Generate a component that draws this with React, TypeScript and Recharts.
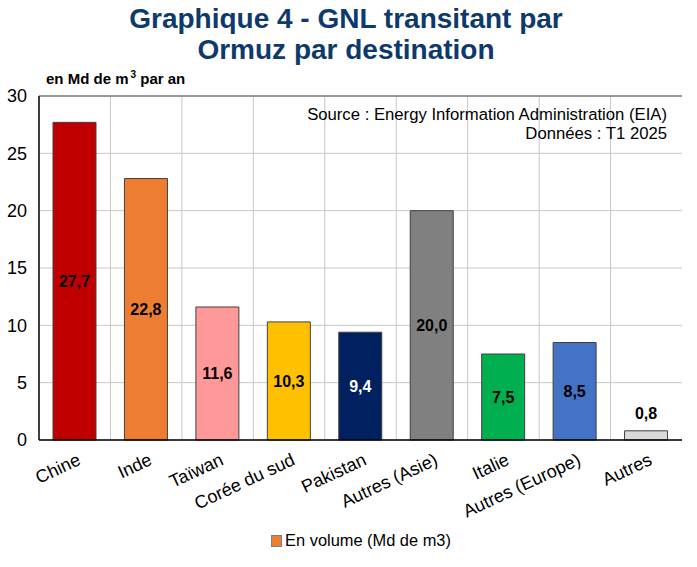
import React from 'react';
import { BarChart, Bar, XAxis, YAxis, CartesianGrid, Cell, LabelList, Legend, ReferenceLine } from 'recharts';

const categories = ['Chine', 'Inde', 'Taïwan', 'Corée du sud', 'Pakistan', 'Autres (Asie)', 'Italie', 'Autres (Europe)', 'Autres'];
const volumes = [27.7, 22.8, 11.6, 10.3, 9.4, 20.0, 7.5, 8.5, 0.8];
const yTicks = [0, 5, 10, 15, 20, 25, 30];
const seriesName = 'En volume (Md de m3)';

const barColors = ['#C00000', '#ED7D31', '#FF9999', '#FFC000', '#002060', '#808080', '#00B050', '#4472C4', '#D9D9D9'];
const labelColors = ['#000000', '#000000', '#000000', '#000000', '#FFFFFF', '#000000', '#000000', '#000000', '#000000'];

const data = categories.map((name, i) => ({ name, value: volumes[i] }));

const FONT = 'Arial, "Liberation Sans", sans-serif';
const W = 697;
const H = 567;

const XTick = (props: any) => {
  const { x, y, payload } = props;
  return (
    <g transform={`translate(${x + 7},${y + 24}) rotate(-25)`}>
      <text x={0} y={0} textAnchor="end" fontSize={18} fontFamily={FONT} fill="#000">
        {payload.value}
      </text>
    </g>
  );
};

const ValueLabel = (props: any) => {
  const { x, y, width, height, value, index } = props;
  const small = value < 3;
  const cx = x + width / 2;
  const cy = small ? y - 18 : y + height / 2;
  return (
    <text
      x={cx}
      y={cy}
      dy={6}
      textAnchor="middle"
      fontSize={16}
      fontWeight="bold"
      fontFamily={FONT}
      fill={labelColors[index]}
    >
      {Number(value).toFixed(1).replace('.', ',')}
    </text>
  );
};

const LegendContent = () => (
  <div
    style={{
      display: 'flex',
      justifyContent: 'center',
      alignItems: 'center',
      fontFamily: FONT,
      fontSize: 16.4,
      color: '#000',
      paddingLeft: 40,
      marginTop: -6,
    }}
  >
    <span style={{ display: 'inline-block', width: 9, height: 10, background: '#ED7D31', border: '1px solid #7F7F7F', marginRight: 3 }} />
    <span>{seriesName}</span>
  </div>
);

export default function App() {
  return (
    <div style={{ position: 'absolute', left: 0, top: 0, width: W, height: H, background: '#fff' }}>
      <div
        style={{
          position: 'absolute',
          left: 0,
          top: 3,
          width: 692,
          textAlign: 'center',
          fontFamily: FONT,
          fontWeight: 'bold',
          fontSize: 28,
          lineHeight: '31px',
          color: '#0E3A6B',
        }}
      >
        Graphique 4 - GNL transitant par
        <br />
        Ormuz par destination
      </div>
      <div
        style={{
          position: 'absolute',
          left: 46,
          top: 70,
          fontFamily: FONT,
          fontWeight: 'bold',
          fontSize: 15,
          color: '#000',
        }}
      >
        en Md de m<sup style={{ fontSize: 10, verticalAlign: 'top', position: 'relative', top: -1, marginLeft: 2 }}>3</sup> par an
      </div>
      <div
        style={{
          position: 'absolute',
          right: 30,
          top: 105,
          textAlign: 'right',
          fontFamily: FONT,
          fontSize: 16.7,
          lineHeight: '19px',
          color: '#000',
          zIndex: 2,
        }}
      >
        Source : Energy Information Administration (EIA)
        <br />
        Données : T1 2025
      </div>
      <BarChart
        width={W}
        height={H}
        data={data}
        margin={{ top: 96, right: 15, left: 0, bottom: 0 }}
        barCategoryGap={0}
      >
        <CartesianGrid
          stroke="#C8C8C8"
          strokeWidth={1}
          verticalCoordinatesGenerator={({ offset }: any) =>
            categories.slice(1).map((_, i) => offset.left + ((i + 1) * offset.width) / categories.length)
          }
        />
        <ReferenceLine y={30} stroke="#7F7F7F" strokeWidth={1.5} />
        <XAxis
          dataKey="name"
          interval={0}
          tick={<XTick />}
          tickLine={false}
          tickSize={0}
          tickMargin={0}
          height={97}
          axisLine={{ stroke: '#000', strokeWidth: 1.5 }}
        />
        <YAxis
          domain={[0, 30]}
          ticks={yTicks}
          width={39}
          tickLine={false}
          tickSize={0}
          tickMargin={12}
          axisLine={{ stroke: '#000', strokeWidth: 1.5 }}
          tick={{ fontSize: 18, fontFamily: FONT, fill: '#000' }}
        />
        <YAxis
          yAxisId="right"
          orientation="right"
          domain={[0, 30]}
          width={0}
          tick={false}
          tickLine={false}
          axisLine={{ stroke: '#404040', strokeWidth: 1.5 }}
        />
        <Legend verticalAlign="bottom" height={30} content={<LegendContent />} />
        <Bar dataKey="value" name={seriesName} barSize={43} stroke="#404040" strokeWidth={1} isAnimationActive={false}>
          {data.map((d, i) => (
            <Cell key={d.name} fill={barColors[i]} />
          ))}
          <LabelList dataKey="value" content={<ValueLabel />} />
        </Bar>
      </BarChart>
    </div>
  );
}
